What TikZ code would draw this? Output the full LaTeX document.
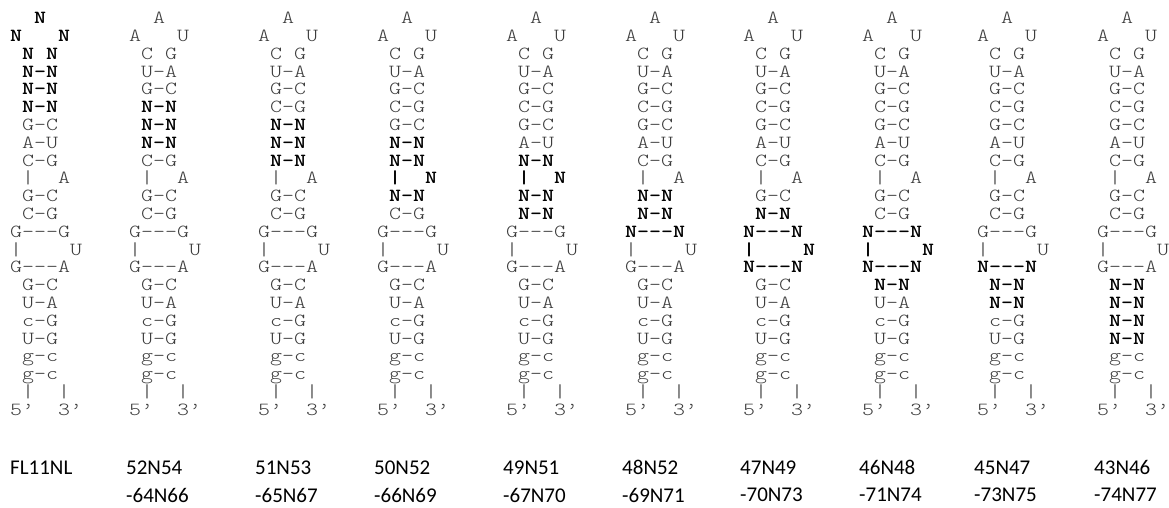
\documentclass[tikz,border=0pt]{standalone}
\usepackage{fontspec}
\usetikzlibrary{positioning}
\newfontfamily\rnaplain[FakeStretch=1.235,Ligatures=TeXOff]{lmmonolt10-regular.otf}
\newfontfamily\rnabold[FakeStretch=1.235,Ligatures=TeXOff]{lmmonolt10-bold.otf}
\newfontfamily\labfont{Carlito}
\definecolor{StemGray}{HTML}{3C3C3C}
\tikzset{
  plainrow/.style={anchor=base west, inner sep=0pt, text=StemGray, font=\rnaplain\fontsize{18.5}{18.5}\selectfont},
  nrow/.style={anchor=base west, inner sep=0pt, text=black, font=\rnabold\fontsize{18.5}{18.5}\selectfont},
  tag/.style={anchor=base west, inner sep=0pt, font=\labfont\fontsize{21}{21}\selectfont}
}

\begin{document}
\begin{tikzpicture}[x=1pt, y=-1pt]
  \useasboundingbox (0,0) rectangle (1169,508);

  % one stem per construct; rows lo..hi are the randomised N positions
  \foreach \cx/\lo/\hi [count=\c] in {16/1/6, 135/6/8, 264/7/9, 383/8/11, 512/9/12,
                                      631/11/13, 749/12/15, 868/13/16, 983/15/17, 1103/16/19} {
    \foreach \pt/\bt [count=\r] in {~~A/~~N, A~~~U/N~~~N, ~C~G/~N~N, ~U-A/~N-N, ~G-C/~N-N,
        ~C-G/~N-N, ~G-C/~N-N, ~A-U/~N-N, ~C-G/~N-N, ~|~~A/~|~~N, ~G-C/~N-N, ~C-G/~N-N,
        G---G/N---N, |~~~~U/|~~~~N, G---A/N---N, ~G-C/~N-N, ~U-A/~N-N, ~c-G/~N-N,
        ~U-G/~N-N, ~g-c/~g-c, ~g-c/~g-c, ~|~~|/~|~~|, 5’~~3’/5’~~3’} {
      \pgfmathtruncatemacro\isn{(\r>=\lo)*(\r<=\hi)}
      \ifnum\isn=1
        \node[nrow] (s\c-\r) at (\cx-6, 5.85+\r*17.8) {\bt};
      \else
        \node[plainrow] (s\c-\r) at (\cx-6, 5.85+\r*17.8) {\pt};
      \fi
    }
  }

  % construct names
  \node[tag] (t1) at (10,474) {FL11NL};
  \foreach \cx/\la/\lb [count=\c from 2] in {135/52N54/-64N66, 264/51N53/-65N67, 383/50N52/-66N69,
      512/49N51/-67N70, 631/48N52/-69N71, 749/47N49/-70N73, 868/46N48/-71N74,
      983/45N47/-73N75, 1103/43N46/-74N77} {
    \node[tag] (t\c) at (\cx-9,474) {\la};
    \node[tag, below=14pt of t\c.base west, anchor=north west] (u\c) {\lb};
  }
\end{tikzpicture}
\end{document}
